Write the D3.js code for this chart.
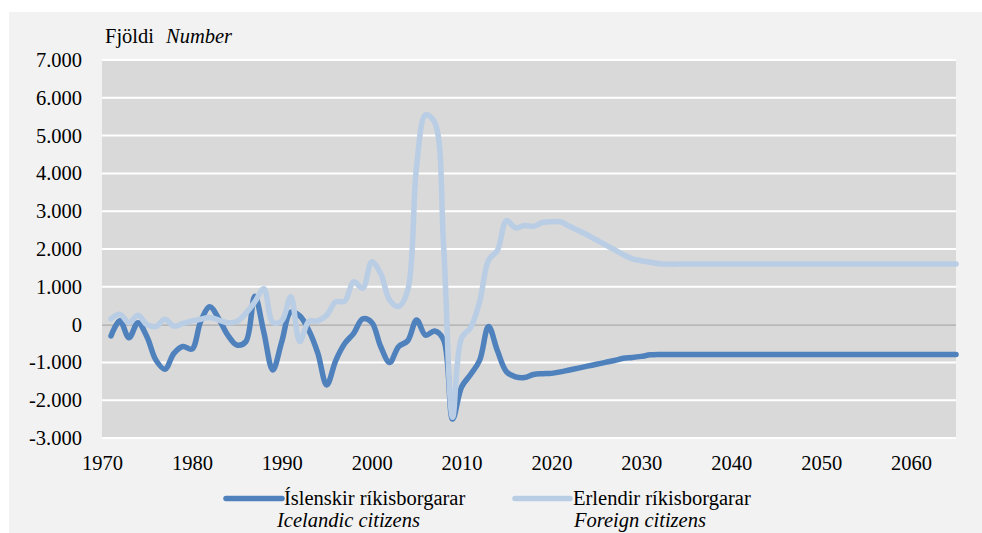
<!DOCTYPE html>
<html>
<head>
<meta charset="utf-8">
<script src="https://cdn.jsdelivr.net/npm/d3@7"></script>
<style>
  html, body { margin: 0; padding: 0; background: #ffffff; }
  svg { display: block; }
  text { font-family: "Liberation Serif", "Times New Roman", serif; fill: #000; }
</style>
</head>
<body>
<svg id="chart" width="982" height="533"></svg>
<script>
// years 1971-2065
var years = d3.range(1971, 2066);

// Icelandic citizens, net migration
var icelandic = [
  -300, 100, -350, 50, -320, -940, -1180, -760, -580, -650,       // 1971-1980
  100, 470, 150, -280, -540, -450, 750, -200, -1200, -450,        // 1981-1990
  330, 230, -150, -750, -1600, -950, -500, -230, 150, 60,         // 1991-2000
  -580, -1000, -580, -430, 120, -280, -170, -400, -2500, -1650,   // 2001-2010
  -1320, -950, -50, -700, -1250, -1380, -1400, -1320, -1300, -1290, // 2011-2020
  -1250, -1200, -1150, -1100, -1050, -1000, -950, -890, -870, -840, // 2021-2030
  -800, -790, -790, -790, -790, -790, -790, -790, -790, -790,     // 2031-2040
  -790, -790, -790, -790, -790, -790, -790, -790, -790, -790,     // 2041-2050
  -790, -790, -790, -790, -790, -790, -790, -790, -790, -790,     // 2051-2060
  -790, -790, -790, -790, -790                                     // 2061-2065
];

// Foreign citizens, net migration
var foreign = [
  150, 270, 50, 250, 0, -50, 140, -40, 30, 100,                   // 1971-1980
  140, 190, 120, 50, 80, 300, 600, 950, 60, 100,                  // 1981-1990
  740, -450, 80, 100, 250, 600, 620, 1130, 960, 1660,             // 1991-2000
  1350, 650, 480, 900, 4200, 5550, 5350, 2100, -2450, -350,       // 2001-2010
  -80, 600, 1700, 1970, 2750, 2560, 2620, 2600, 2700, 2720,       // 2011-2020
  2720, 2600, 2490, 2370, 2240, 2110, 1980, 1850, 1740, 1690,     // 2021-2030
  1650, 1610, 1600, 1600, 1600, 1600, 1600, 1600, 1600, 1600,     // 2031-2040
  1600, 1600, 1600, 1600, 1600, 1600, 1600, 1600, 1600, 1600,     // 2041-2050
  1600, 1600, 1600, 1600, 1600, 1600, 1600, 1600, 1600, 1600,     // 2051-2060
  1600, 1600, 1600, 1600, 1600                                     // 2061-2065
];

var yTicks = d3.range(-3000, 7001, 1000);
var xTicks = d3.range(1970, 2061, 10);

var seriesNames = [
  ['Íslenskir ríkisborgarar', 'Icelandic citizens'],
  ['Erlendir ríkisborgarar', 'Foreign citizens']
];
var colors = ['#4f81bd', '#b9cde5'];

var svg = d3.select('#chart');
var plot = { left: 102, right: 956, top: 60, bottom: 438 };

var x = d3.scaleLinear().domain([1970, 2065]).range([plot.left, plot.right]);
var y = d3.scaleLinear().domain([-3000, 7000]).range([plot.bottom, plot.top]);

// outer panel
svg.append('rect')
  .attr('x', 9).attr('y', 12)
  .attr('width', 973).attr('height', 521)
  .attr('fill', '#f2f2f2');

// plot area
svg.append('rect')
  .attr('x', plot.left).attr('y', plot.top)
  .attr('width', plot.right - plot.left).attr('height', plot.bottom - plot.top)
  .attr('fill', '#d9d9d9');

// gridlines
svg.append('g')
  .selectAll('line')
  .data(yTicks.filter(function(d) { return d !== 0; }))
  .enter()
  .append('line')
  .attr('x1', plot.left).attr('x2', plot.right)
  .attr('y1', function(d) { return y(d); })
  .attr('y2', function(d) { return y(d); })
  .attr('stroke', '#ffffff')
  .attr('stroke-width', 2);

// zero line
svg.append('line')
  .attr('x1', plot.left).attr('x2', plot.right)
  .attr('y1', y(0) + 0.5).attr('y2', y(0) + 0.5)
  .attr('stroke', '#a0a0a0')
  .attr('stroke-width', 1);

// y axis
var yAxis = d3.axisLeft(y)
  .tickValues(yTicks)
  .tickSize(0)
  .tickPadding(20)
  .tickFormat(function(d) { return d3.format(',')(d).replace(/,/g, '.').replace('−', '-'); });

var gy = svg.append('g')
  .attr('transform', 'translate(' + plot.left + ',0)')
  .call(yAxis);
gy.attr('font-family', null);
gy.select('.domain').remove();
gy.selectAll('text')
  .attr('font-size', '20.5px')
  .attr('fill', '#000');

// x axis
var xAxis = d3.axisBottom(x)
  .tickValues(xTicks)
  .tickSize(0)
  .tickPadding(17)
  .tickFormat(d3.format('d'));

var gx = svg.append('g')
  .attr('transform', 'translate(0,' + plot.bottom + ')')
  .call(xAxis);
gx.attr('font-family', null);
gx.select('.domain').remove();
gx.selectAll('text')
  .attr('font-size', '20.5px')
  .attr('fill', '#000');

// axis title
var title = svg.append('text')
  .attr('x', 105).attr('y', 43)
  .attr('font-size', '20.5px');
title.append('tspan').text('Fjöldi');
title.append('tspan').attr('font-style', 'italic').attr('dx', 12).text('Number');

// lines
var line = d3.line()
  .x(function(d, i) { return x(years[i]); })
  .y(function(d) { return y(d); })
  .curve(d3.curveCatmullRom.alpha(0.5));

[icelandic, foreign].forEach(function(values, i) {
  svg.append('path')
    .datum(values)
    .attr('d', line)
    .attr('fill', 'none')
    .attr('stroke', colors[i])
    .attr('stroke-width', 5.5)
    .attr('stroke-linecap', 'round')
    .attr('stroke-linejoin', 'round');
});

// legend
var legendItems = [
  { x1: 226, x2: 282, tx: 284, tx2: 277 },
  { x1: 515, x2: 570, tx: 573, tx2: 574 }
];
legendItems.forEach(function(item, i) {
  var g = svg.append('g').attr('class', 'legend-item');
  g.append('line')
    .attr('x1', item.x1).attr('x2', item.x2)
    .attr('y1', 498.5).attr('y2', 498.5)
    .attr('stroke', colors[i])
    .attr('stroke-width', 5.5)
    .attr('stroke-linecap', 'round');
  g.append('text')
    .attr('x', item.tx).attr('y', 505)
    .attr('font-size', '20.5px')
    .text(seriesNames[i][0]);
  g.append('text')
    .attr('x', item.tx2).attr('y', 527)
    .attr('font-size', '20.5px')
    .attr('font-style', 'italic')
    .text(seriesNames[i][1]);
});
</script>
</body>
</html>
